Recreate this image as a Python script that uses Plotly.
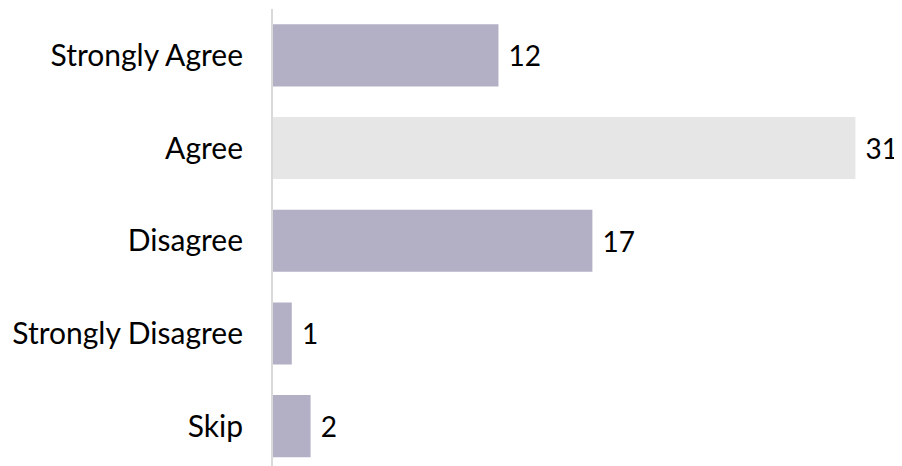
import plotly.graph_objects as go

categories = ["Strongly Agree", "Agree", "Disagree", "Strongly Disagree", "Skip"]
values = [12, 31, 17, 1, 2]
colors = ["#b3b0c6", "#e6e6e6", "#b3b0c6", "#b3b0c6", "#b3b0c6"]

fig = go.Figure(go.Bar(
    x=values, y=categories, orientation="h",
    marker=dict(color=colors, line=dict(width=0)),
    text=[" " + str(v) for v in values],
    textposition="outside", cliponaxis=False,
    textfont=dict(size=28, color="#000000", family="Lato, sans-serif"),
))
fig.update_layout(
    width=902, height=466,
    margin=dict(l=265, r=17, t=1, b=8, autoexpand=False),
    paper_bgcolor="white", plot_bgcolor="white",
    bargap=0.33, showlegend=False,
    font=dict(family="Lato, sans-serif", size=30, color="#000000"),
    xaxis=dict(range=[0, 33], visible=False, automargin=False),
    yaxis=dict(categoryorder="array", categoryarray=categories, automargin=False,
               range=[4.43, -0.5], showline=True, linecolor="#d9d9d9", linewidth=2,
               showgrid=False, zeroline=False, ticks="", ticklabelstandoff=22),
)
fig.write_html("out.html")
